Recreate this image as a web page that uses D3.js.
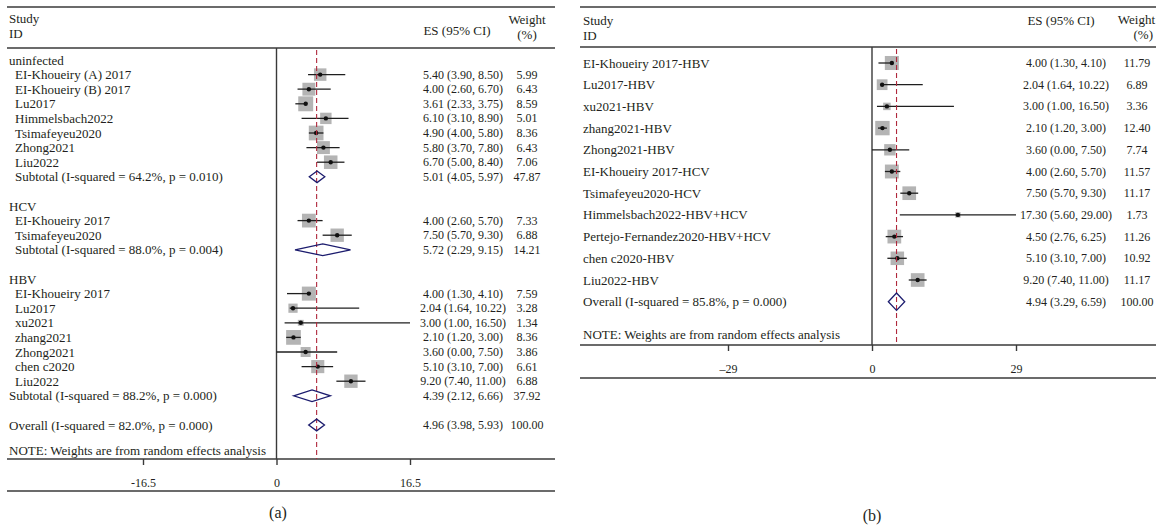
<!DOCTYPE html>
<html>
<head>
<meta charset="utf-8">
<script src="https://cdn.jsdelivr.net/npm/d3@7"></script>
<style>
  body { margin: 0; background: #fff; }
  svg text { font-family: 'Liberation Serif', 'Times New Roman', serif; font-size: 13px; fill: #231f20; }
  svg text.num { font-size: 12px; }
  svg .tick text { font-size: 12px; }
  svg text.caption { font-size: 16px; }
</style>
</head>
<body>
<svg id="chart" width="1156" height="527"></svg>
<script>
// ---- panel (a): subgroups ----
const aLabels = [
  "uninfected", "EI-Khoueiry (A) 2017", "EI-Khoueiry (B) 2017", "Lu2017", "Himmelsbach2022",
  "Tsimafeyeu2020", "Zhong2021", "Liu2022", "Subtotal (I-squared = 64.2%, p = 0.010)", "",
  "HCV", "EI-Khoueiry 2017", "Tsimafeyeu2020", "Subtotal (I-squared = 88.0%, p = 0.004)", "",
  "HBV", "EI-Khoueiry 2017", "Lu2017", "xu2021", "zhang2021", "Zhong2021", "chen c2020", "Liu2022",
  "Subtotal (I-squared = 88.2%, p = 0.000)", "", "Overall (I-squared = 82.0%, p = 0.000)"
];
const aKinds = [
  "group", "study", "study", "study", "study", "study", "study", "study", "sub", "blank",
  "group", "study", "study", "sub", "blank",
  "group", "study", "study", "study", "study", "study", "study", "study", "pool", "blank", "pool"
];
const aEs = [null, 5.40, 4.00, 3.61, 6.10, 4.90, 5.80, 6.70, 5.01, null,
  null, 4.00, 7.50, 5.72, null,
  null, 4.00, 2.04, 3.00, 2.10, 3.60, 5.10, 9.20, 4.39, null, 4.96];
const aLow = [null, 3.90, 2.60, 2.33, 3.10, 4.00, 3.70, 5.00, 4.05, null,
  null, 2.60, 5.70, 2.29, null,
  null, 1.30, 1.64, 1.00, 1.20, 0.00, 3.10, 7.40, 2.12, null, 3.98];
const aHigh = [null, 8.50, 6.70, 3.75, 8.90, 5.80, 7.80, 8.40, 5.97, null,
  null, 5.70, 9.30, 9.15, null,
  null, 4.10, 10.22, 16.50, 3.00, 7.50, 7.00, 11.00, 6.66, null, 5.93];
const aWeight = [null, 5.99, 6.43, 8.59, 5.01, 8.36, 6.43, 7.06, 47.87, null,
  null, 7.33, 6.88, 14.21, null,
  null, 7.59, 3.28, 1.34, 8.36, 3.86, 6.61, 6.88, 37.92, null, 100.00];
const aTicks = [-16.5, 0, 16.5];

// ---- panel (b): by infection ----
const bLabels = [
  "EI-Khoueiry 2017-HBV", "Lu2017-HBV", "xu2021-HBV", "zhang2021-HBV", "Zhong2021-HBV",
  "EI-Khoueiry 2017-HCV", "Tsimafeyeu2020-HCV", "Himmelsbach2022-HBV+HCV",
  "Pertejo-Fernandez2020-HBV+HCV", "chen c2020-HBV", "Liu2022-HBV",
  "Overall (I-squared = 85.8%, p = 0.000)"
];
const bKinds = ["study", "study", "study", "study", "study", "study", "study", "study",
  "study", "study", "study", "pool"];
const bEs = [4.00, 2.04, 3.00, 2.10, 3.60, 4.00, 7.50, 17.30, 4.50, 5.10, 9.20, 4.94];
const bLow = [1.30, 1.64, 1.00, 1.20, 0.00, 2.60, 5.70, 5.60, 2.76, 3.10, 7.40, 3.29];
const bHigh = [4.10, 10.22, 16.50, 3.00, 7.50, 5.70, 9.30, 29.00, 6.25, 7.00, 11.00, 6.59];
const bWeight = [11.79, 6.89, 3.36, 12.40, 7.74, 11.57, 11.17, 1.73, 11.26, 10.92, 11.17, 100.00];
const bTicks = [-29, 0, 29];

const note = "NOTE: Weights are from random effects analysis";
const f2 = d3.format(".2f");

const svg = d3.select("#chart");

function rowsOf(labels, kinds, es, lo, hi, w) {
  return labels.map((label, i) => ({ i, label, kind: kinds[i], es: es[i], lo: lo[i], hi: hi[i], w: w[i] }));
}

function drawPanel(rows, p) {
  const g = svg.append("g");
  const x = d3.scaleLinear().domain(p.domain).range(p.range);
  const y = d3.scaleLinear().domain([0, 1]).range([p.rowTop, p.rowTop + p.rowStep]);
  const side = d3.scaleSqrt().domain([0, p.wMax]).range([0, p.sideMax]);
  const dh = p.rowStep * 0.4;

  const hline = (yy) => g.append("line")
    .attr("x1", p.left).attr("x2", p.right).attr("y1", yy).attr("y2", yy)
    .attr("stroke", "#3a3a3a").attr("stroke-width", 1.4);
  hline(p.topY);
  hline(p.headY);
  hline(p.bottomY);

  // header
  g.append("text").attr("x", p.textX).attr("y", p.studyY).attr("dominant-baseline", "central").text("Study");
  g.append("text").attr("x", p.textX).attr("y", p.studyY + 15).attr("dominant-baseline", "central").text("ID");
  g.append("text").attr("x", p.esHeadX).attr("y", p.esHeadY).attr("text-anchor", "middle")
    .attr("dominant-baseline", "central").text("ES (95% CI)");
  g.append("text").attr("x", p.wHeadX).attr("y", 19).attr("text-anchor", p.wHeadAnchor)
    .attr("dominant-baseline", "central").text("Weight");
  g.append("text").attr("x", p.pctX).attr("y", 34).attr("text-anchor", p.wHeadAnchor)
    .attr("dominant-baseline", "central").text("(%)");

  // x axis
  const axis = d3.axisBottom(x).tickValues(p.ticks).tickSize(6).tickPadding(13).tickFormat(p.fmt);
  const ax = g.append("g").attr("transform", `translate(0,${p.axisY})`).call(axis);
  ax.select(".domain").remove();
  ax.selectAll(".tick line").attr("stroke", "#3a3a3a").attr("stroke-width", 1.4);
  ax.selectAll(".tick text").attr("fill", null);
  hline(p.axisY);

  // null line
  g.append("line").attr("x1", x(0)).attr("x2", x(0)).attr("y1", p.headY).attr("y2", p.axisY)
    .attr("stroke", "#3a3a3a").attr("stroke-width", 1.4);

  // labels
  g.selectAll(".lab").data(rows.filter(d => d.kind !== "blank")).join("text")
    .attr("class", "lab")
    .attr("x", d => (d.kind === "study" || d.kind === "sub") ? p.indentX : p.textX)
    .attr("y", d => y(d.i)).attr("dominant-baseline", "central")
    .text(d => d.label);

  const valued = rows.filter(d => d.es !== null);
  g.selectAll(".es").data(valued).join("text")
    .attr("class", "num")
    .attr("x", p.esX).attr("y", d => y(d.i)).attr("text-anchor", "middle").attr("dominant-baseline", "central")
    .text(d => `${f2(d.es)} (${f2(d.lo)}, ${f2(d.hi)})`);
  g.selectAll(".wt").data(valued).join("text")
    .attr("class", "num")
    .attr("x", p.wX).attr("y", d => y(d.i)).attr("text-anchor", "middle").attr("dominant-baseline", "central")
    .text(d => f2(d.w));

  g.append("text").attr("x", p.textX).attr("y", p.noteY).attr("dominant-baseline", "central").text(note);

  // study markers
  const studies = rows.filter(d => d.kind === "study");
  g.selectAll(".box").data(studies).join("rect")
    .attr("x", d => x(d.es) - side(d.w) / 2).attr("y", d => y(d.i) - side(d.w) / 2)
    .attr("width", d => side(d.w)).attr("height", d => side(d.w))
    .attr("fill", "#b4b4b4");
  g.selectAll(".ci").data(studies).join("line")
    .attr("x1", d => x(d.lo)).attr("x2", d => x(d.hi)).attr("y1", d => y(d.i)).attr("y2", d => y(d.i))
    .attr("stroke", "#1f1f1f").attr("stroke-width", 1.3);
  g.selectAll(".pt").data(studies).join("circle")
    .attr("cx", d => x(d.es)).attr("cy", d => y(d.i)).attr("r", 2.2).attr("fill", "#111");

  // pooled line
  const pooled = rows[rows.length - 1].es;
  g.append("line").attr("x1", x(pooled)).attr("x2", x(pooled)).attr("y1", p.headY + 2).attr("y2", p.axisY)
    .attr("stroke", "#b0283c").attr("stroke-width", 1.1).attr("stroke-dasharray", "5,3");

  // diamonds
  g.selectAll(".dia").data(rows.filter(d => d.kind === "sub" || d.kind === "pool")).join("path")
    .attr("d", d => `M${x(d.lo)},${y(d.i)} L${x(d.es)},${y(d.i) - dh} L${x(d.hi)},${y(d.i)} L${x(d.es)},${y(d.i) + dh} Z`)
    .attr("fill", "none").attr("stroke", "#1c1c6e").attr("stroke-width", 1.3);

  g.append("text").attr("class", "caption").attr("x", p.captionX).attr("y", p.captionY)
    .attr("text-anchor", "middle").attr("dominant-baseline", "central").text(p.caption);
}

drawPanel(rowsOf(aLabels, aKinds, aEs, aLow, aHigh, aWeight), {
  domain: [-16.5, 16.5], range: [143, 410], ticks: aTicks, fmt: d => String(d),
  left: 7, right: 555, topY: 7, headY: 48, axisY: 459, bottomY: 491,
  textX: 9, indentX: 15, studyY: 18, esHeadX: 457, esHeadY: 30,
  wHeadX: 527, wHeadAnchor: "middle", pctX: 527, esX: 463, wX: 527,
  rowTop: 60, rowStep: 14.6, noteY: 450, wMax: 10, sideMax: 16.1,
  caption: "(a)", captionX: 278, captionY: 512
});

drawPanel(rowsOf(bLabels, bKinds, bEs, bLow, bHigh, bWeight), {
  domain: [-29, 29], range: [728, 1016], ticks: bTicks, fmt: d => d < 0 ? "\u2013" + (-d) : String(d),
  left: 580, right: 1156, topY: 7, headY: 47, axisY: 345, bottomY: 378,
  textX: 583, indentX: 583, studyY: 20, esHeadX: 1061, esHeadY: 20,
  wHeadX: 1155, wHeadAnchor: "end", pctX: 1153, esX: 1066, wX: 1137,
  rowTop: 63, rowStep: 21.7, noteY: 334, wMax: 12.4, sideMax: 14.4,
  caption: "(b)", captionX: 872, captionY: 515
});
</script>
</body>
</html>
